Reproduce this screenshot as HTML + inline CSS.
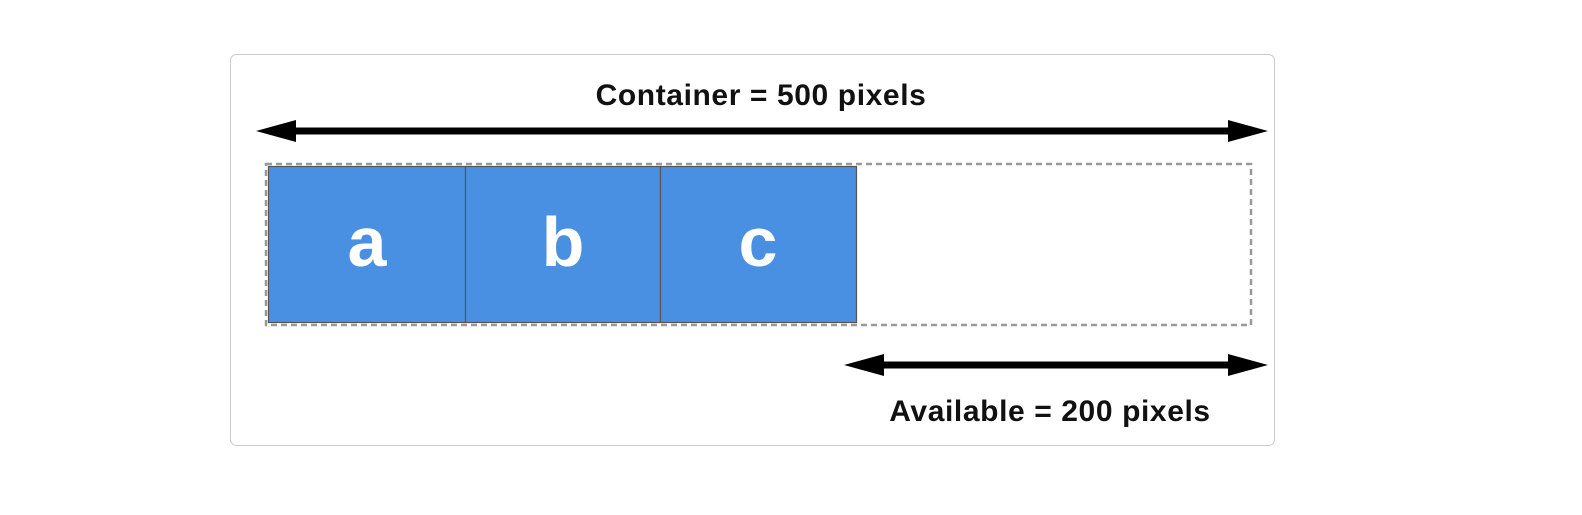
<!DOCTYPE html>
<html><head><style>
body{margin:0;width:1582px;height:510px;background:#fff;overflow:hidden;font-family:"Liberation Sans",Arial,sans-serif}
</style></head><body>
<svg width="1582" height="510" xmlns="http://www.w3.org/2000/svg">
<rect x="230.5" y="54.5" width="1044" height="391" rx="6" fill="#fff" stroke="#ccc" stroke-width="1"/>
<text x="761" y="105" text-anchor="middle" font-family="Liberation Sans, Arial, sans-serif" font-weight="bold" font-size="30" letter-spacing="0.6" fill="#111">Container = 500 pixels</text>
<line x1="290" y1="131" x2="1234" y2="131" stroke="#000" stroke-width="7"/>
<polygon points="256,131 296,120 296,142" fill="#000"/>
<polygon points="1268,131 1228,120 1228,142" fill="#000"/>
<rect x="266" y="164" width="985" height="161" fill="none" stroke="#999" stroke-width="2.5" stroke-dasharray="6,4"/>
<rect x="268.5" y="166.5" width="197" height="156" fill="#4a90e2" stroke="#555" stroke-width="1.2"/>
<rect x="465.5" y="166.5" width="195" height="156" fill="#4a90e2" stroke="#555" stroke-width="1.2"/>
<rect x="660.5" y="166.5" width="196" height="156" fill="#4a90e2" stroke="#555" stroke-width="1.2"/>
<g font-family="Liberation Sans, Arial, sans-serif" font-weight="bold" font-size="70" fill="#fff" text-anchor="middle">
<text x="367" y="266">a</text>
<text x="563" y="266">b</text>
<text x="758" y="266">c</text>
</g>
<line x1="880" y1="365" x2="1234" y2="365" stroke="#000" stroke-width="7"/>
<polygon points="844,365 884,354 884,376" fill="#000"/>
<polygon points="1268,365 1228,354 1228,376" fill="#000"/>
<text x="1050" y="421" text-anchor="middle" font-family="Liberation Sans, Arial, sans-serif" font-weight="bold" font-size="30" letter-spacing="0.6" fill="#111">Available = 200 pixels</text>
</svg>
</body></html>
